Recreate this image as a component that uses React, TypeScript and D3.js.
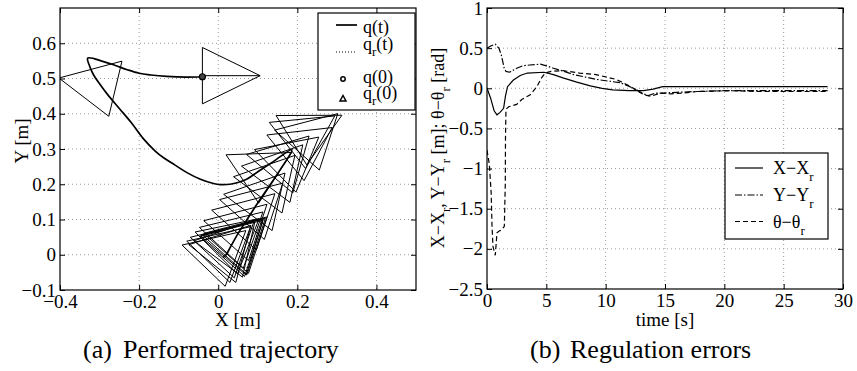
import React, { useEffect, useRef } from 'react';
import * as d3 from 'd3';

// ---------- (a) performed trajectory ----------
// robot path q(t), [x, y] in metres
const qTraj: [number, number][] = [
  [-0.04, 0.505], [-0.08, 0.504], [-0.13, 0.506], [-0.17, 0.51], [-0.2, 0.515],
  [-0.23, 0.525], [-0.26, 0.537], [-0.29, 0.548], [-0.33, 0.558], [-0.325, 0.535],
  [-0.315, 0.51], [-0.3, 0.485], [-0.28, 0.455], [-0.25, 0.415], [-0.22, 0.375],
  [-0.19, 0.33], [-0.16, 0.295], [-0.138, 0.275], [-0.11, 0.255], [-0.079, 0.233],
  [-0.045, 0.214], [-0.012, 0.202], [0.005, 0.199], [0.03, 0.2], [0.05, 0.205],
  [0.073, 0.215], [0.102, 0.237], [0.14, 0.265], [0.186, 0.298], [0.15, 0.23],
  [0.12, 0.18], [0.09, 0.13], [0.073, 0.1], [0.05, 0.06], [0.03, 0.02],
  [0.02, 0.0], [0.012, -0.008]
];

// reference path q_r(t)
const qRefTraj: [number, number][] = [
  [0.1, 0.08], [0.097, 0.05], [0.092, 0.02], [0.085, -0.01], [0.07, -0.04]
];

// robot snapshots drawn as triangles: [x, y, heading deg]
const robotPoses: [number, number, number][] = [
  [-0.04, 0.508, 0],
  [-0.26, 0.471, 168],
  [0.199, 0.297, 45],
  [0.175, 0.31, 35],
  [0.185, 0.325, 29],
  [0.17, 0.275, 36],
  [0.144, 0.238, 41],
  [0.061, 0.215, 31],
  [0.13, 0.23, 47],
  [0.12, 0.2, 50],
  [0.1, 0.17, 50],
  [0.075, 0.12, 50],
  [0.06, 0.1, 45],
  [0.04, 0.07, 45],
  [0.02, 0.04, 45],
  [0.008, 0.02, 44],
  [-0.005, 0.005, 42],
  [-0.015, -0.008, 44],
  [-0.025, -0.02, 43],
  [-0.037, -0.031, 43],
  [-0.015, -0.025, 48],
  [0.0, -0.012, 50],
  [0.01, -0.005, 45],
  [0.013, -0.002, 46],
  [0.016, 0.0, 45],
  [0.02, 0.004, 45]
];

const leftXTicks = [-0.4, -0.2, 0, 0.2, 0.4];
const leftYTicks = [-0.1, 0, 0.1, 0.2, 0.3, 0.4, 0.5, 0.6];

// ---------- (b) regulation errors ----------
// [time s, value]
const errX: [number, number][] = [
  [0, 0], [0.3, -0.12], [0.6, -0.28], [0.84, -0.33], [1.1, -0.3], [1.4, -0.25],
  [1.55, -0.1], [1.73, 0.02], [2.2, 0.1], [2.8, 0.16], [3.4, 0.19], [4.8, 0.2],
  [5.6, 0.17], [6.4, 0.13], [7.5, 0.08], [8.7, 0.03], [9.7, 0.0], [10.6, -0.02],
  [12, -0.03], [13.2, -0.03], [14, -0.01], [14.8, 0.02], [16, 0.02], [20, 0.02], [28.7, 0.02]
];
const errY: [number, number][] = [
  [0, 0.5], [0.35, 0.53], [0.7, 0.55], [1.0, 0.5], [1.2, 0.42], [1.45, 0.25],
  [1.6, 0.21], [1.9, 0.2], [2.5, 0.25], [3.0, 0.28], [3.6, 0.29], [4.5, 0.3],
  [5.0, 0.28], [5.6, 0.25], [6.5, 0.21], [7.3, 0.17], [8.3, 0.14], [9.25, 0.11],
  [10.2, 0.09], [11.2, 0.07], [11.9, 0.03], [12.6, -0.02], [13.2, -0.07], [13.6, -0.09],
  [14.2, -0.06], [14.9, -0.06], [16, -0.05], [17.7, -0.04], [20, -0.03], [24, -0.03], [28.7, -0.03]
];
const errTheta: [number, number][] = [
  [0, -0.77], [0.2, -0.95], [0.35, -1.3], [0.42, -1.7], [0.5, -1.97], [0.7, -2.08],
  [0.84, -1.8], [1.0, -1.78], [1.26, -1.76], [1.46, -1.72], [1.54, -1.2], [1.56, -0.6],
  [1.6, -0.26], [1.83, -0.23], [2.5, -0.2], [2.93, -0.14], [3.64, -0.08], [4.2, 0.02],
  [4.6, 0.13], [4.9, 0.19], [5.4, 0.21], [6.4, 0.22], [7.8, 0.19], [9.2, 0.17],
  [10.9, 0.11], [12, 0.03], [13.2, -0.08], [13.8, -0.1], [14.6, -0.06], [15.5, -0.07],
  [16.5, -0.06], [17.7, -0.04], [20.5, -0.03], [23, -0.04], [26, -0.04], [28.7, -0.04]
];

const rightXTicks = [0, 5, 10, 15, 20, 25, 30];
const rightYTicks = [-2.5, -2, -1.5, -1, -0.5, 0, 0.5, 1];

const FONT = 'Liberation Serif, Times New Roman, Times, DejaVu Serif, serif';

type Part = [string, boolean];

// write text with subscripts as tspans
function richText(sel: any, parts: Part[], subSize: number, shift: number) {
  let down = false;
  parts.forEach(([str, sub]) => {
    const t = sel.append('tspan').text(str);
    if (sub && !down) { t.attr('dy', shift).attr('font-size', subSize); down = true; }
    else if (!sub && down) { t.attr('dy', -shift); down = false; }
    else if (sub) t.attr('font-size', subSize);
  });
}

const App = () => {
  const ref = useRef<SVGSVGElement>(null);

  useEffect(() => {
    const svg = d3.select(ref.current);
    svg.selectAll('*').remove();

    const fmt = (d: number) => (d === 0 ? '0' : d3.format('~g')(d));

    const drawFrame = (x: any, y: any, xt: number[], yt: number[], id: string) => {
      const [x0, x1] = x.range();
      const [y0, y1] = y.range();
      const g = svg.append('g');
      // grid
      g.selectAll('.gx').data(xt.filter(d => x(d) > x0 + 1 && x(d) < x1 - 1)).join('line')
        .attr('x1', d => x(d)).attr('x2', d => x(d)).attr('y1', y1).attr('y2', y0)
        .attr('stroke', '#9a9a9a').attr('stroke-dasharray', '1,3');
      g.selectAll('.gy').data(yt.filter(d => y(d) < y0 - 1 && y(d) > y1 + 1)).join('line')
        .attr('y1', d => y(d)).attr('y2', d => y(d)).attr('x1', x0).attr('x2', x1)
        .attr('stroke', '#9a9a9a').attr('stroke-dasharray', '1,3');

      const style = (a: any) => {
        a.select('.domain').remove();
        a.attr('font-family', null).attr('font-size', null);
        a.selectAll('line').attr('stroke', '#000');
        a.selectAll('text').attr('fill', '#000').style('font-family', FONT).style('font-size', '19px');
      };
      g.append('g').attr('transform', `translate(0,${y0})`)
        .call(d3.axisBottom(x).tickValues(xt).tickFormat(fmt as any).tickSizeInner(-5).tickSizeOuter(0).tickPadding(5))
        .call(style);
      g.append('g').attr('transform', `translate(0,${y1})`)
        .call(d3.axisTop(x).tickValues(xt).tickFormat(() => '').tickSizeInner(-5).tickSizeOuter(0))
        .call(style);
      g.append('g').attr('transform', `translate(${x0},0)`)
        .call(d3.axisLeft(y).tickValues(yt).tickFormat(fmt as any).tickSizeInner(-5).tickSizeOuter(0).tickPadding(4))
        .call(style);
      g.append('g').attr('transform', `translate(${x1},0)`)
        .call(d3.axisRight(y).tickValues(yt).tickFormat(() => '').tickSizeInner(-5).tickSizeOuter(0))
        .call(style);
      g.append('rect').attr('x', x0).attr('y', y1).attr('width', x1 - x0).attr('height', y0 - y1)
        .attr('fill', 'none').attr('stroke', '#000').attr('stroke-width', 1.2);

      svg.append('clipPath').attr('id', id).append('rect')
        .attr('x', x0).attr('y', y1).attr('width', x1 - x0).attr('height', y0 - y1);
    };

    // ===== left panel =====
    const xL = d3.scaleLinear().domain([-0.4, 0.5]).range([60, 416]);
    const yL = d3.scaleLinear().domain([-0.1, 0.7]).range([290, 8]);
    drawFrame(xL, yL, leftXTicks, leftYTicks, 'clipL');

    const plotL = svg.append('g').attr('clip-path', 'url(#clipL)');
    const lineL = d3.line<[number, number]>().x(d => xL(d[0])).y(d => yL(d[1]));

    const triHalf = 0.08, triLen = 0.146;
    const triangle = ([px, py, deg]: [number, number, number]): [number, number][] => {
      const a = deg * Math.PI / 180;
      const c = Math.cos(a), s = Math.sin(a);
      return [[px + triLen * c, py + triLen * s], [px - triHalf * s, py + triHalf * c], [px + triHalf * s, py - triHalf * c]];
    };

    plotL.selectAll('.tri').data(robotPoses).join('path')
      .attr('d', d => lineL(triangle(d)) + 'Z')
      .attr('fill', 'none').attr('stroke', '#000').attr('stroke-width', 1);

    // heading line of the first pose
    const p0 = robotPoses[0];
    plotL.append('path').attr('d', lineL([[p0[0], p0[1]], triangle(p0)[0]]))
      .attr('stroke', '#000').attr('stroke-width', 1);

    plotL.append('path').attr('d', lineL(qRefTraj))
      .attr('fill', 'none').attr('stroke', '#000').attr('stroke-width', 1).attr('stroke-dasharray', '1,2');

    plotL.append('path').attr('d', lineL.curve(d3.curveCatmullRom)(qTraj))
      .attr('fill', 'none').attr('stroke', '#000').attr('stroke-width', 1.7);

    plotL.append('circle').attr('cx', xL(qTraj[0][0])).attr('cy', yL(qTraj[0][1])).attr('r', 3)
      .attr('fill', '#444').attr('stroke', '#000').attr('stroke-width', 1.2);

    // legend (a)
    const lgA = svg.append('g').style('font-family', FONT).style('font-size', '18px');
    lgA.append('rect').attr('x', 318).attr('y', 13).attr('width', 97).attr('height', 97)
      .attr('fill', '#fff').attr('stroke', '#000').attr('stroke-width', 1.2);
    lgA.append('line').attr('x1', 336).attr('x2', 357).attr('y1', 25).attr('y2', 25)
      .attr('stroke', '#000').attr('stroke-width', 1.7);
    lgA.append('line').attr('x1', 336).attr('x2', 357).attr('y1', 52).attr('y2', 52)
      .attr('stroke', '#000').attr('stroke-width', 1).attr('stroke-dasharray', '1,2');
    lgA.append('circle').attr('cx', 343).attr('cy', 79).attr('r', 2.2)
      .attr('fill', 'none').attr('stroke', '#000').attr('stroke-width', 1.5);
    lgA.append('path').attr('d', 'M340,101L346,101L343,95.5Z')
      .attr('fill', 'none').attr('stroke', '#000').attr('stroke-width', 1.5);
    richText(lgA.append('text').attr('x', 363).attr('y', 33), [['q(t)', false]], 13, 6);
    richText(lgA.append('text').attr('x', 363).attr('y', 50), [['q', false], ['r', true], ['(t)', false]], 13, 6);
    richText(lgA.append('text').attr('x', 363).attr('y', 83), [['q(0)', false]], 13, 6);
    richText(lgA.append('text').attr('x', 363).attr('y', 99), [['q', false], ['r', true], ['(0)', false]], 13, 6);

    const label = (sel: any, size: number) => sel.style('font-family', FONT).style('font-size', `${size}px`);

    // labels (a)
    label(svg.append('text').attr('x', 238).attr('y', 326).attr('text-anchor', 'middle'), 19).text('X [m]');
    label(svg.append('text').attr('transform', 'translate(28,141) rotate(-90)').attr('text-anchor', 'middle'), 19).text('Y [m]');
    label(svg.append('text').attr('x', 83).attr('y', 358), 26).text('(a)');
    label(svg.append('text').attr('x', 123).attr('y', 358), 26).text('Performed trajectory');

    // ===== right panel =====
    const xR = d3.scaleLinear().domain([0, 30]).range([487, 843]);
    const yR = d3.scaleLinear().domain([-2.5, 1]).range([289, 8]);
    drawFrame(xR, yR, rightXTicks, rightYTicks, 'clipR');

    const plotR = svg.append('g').attr('clip-path', 'url(#clipR)');
    const lineR = d3.line<[number, number]>().x(d => xR(d[0])).y(d => yR(d[1]));
    const series: [[number, number][], string][] = [
      [errTheta, '5,3'],
      [errY, '7,2,1.5,2'],
      [errX, '']
    ];
    series.forEach(([data, dash]) => {
      plotR.append('path').attr('d', lineR(data))
        .attr('fill', 'none').attr('stroke', '#000').attr('stroke-width', 1.2)
        .attr('stroke-dasharray', dash || null);
    });

    // legend (b)
    const lgB = svg.append('g').style('font-family', FONT).style('font-size', '18px');
    lgB.append('rect').attr('x', 725).attr('y', 153).attr('width', 103).attr('height', 86)
      .attr('fill', '#fff').attr('stroke', '#000').attr('stroke-width', 1.2);
    const lgRows: [string, number, string][] = [['X', 168, ''], ['Y', 195, '7,2,1.5,2'], ['θ', 221.5, '5,3']];
    lgRows.forEach(([v, yy, dash]) => {
      lgB.append('line').attr('x1', 735).attr('x2', 763).attr('y1', yy).attr('y2', yy)
        .attr('stroke', '#000').attr('stroke-width', 1.2).attr('stroke-dasharray', dash || null);
      richText(lgB.append('text').attr('x', 773).attr('y', yy + 6), [[`${v}−${v}`, false], ['r', true]], 13, 7);
    });

    // labels (b)
    label(svg.append('text').attr('x', 665).attr('y', 326).attr('text-anchor', 'middle'), 19).text('time [s]');
    richText(
      label(svg.append('text').attr('transform', 'translate(444,148) rotate(-90)').attr('text-anchor', 'middle'), 18),
      [['X−X', false], ['r', true], [', Y−Y', false], ['r', true], [' [m]; θ−θ', false], ['r', true], [' [rad]', false]],
      13, 6
    );
    label(svg.append('text').attr('x', 530).attr('y', 358), 26).text('(b)');
    label(svg.append('text').attr('x', 570).attr('y', 358), 26).text('Regulation errors');
  }, []);

  return (
    <svg ref={ref} width={857} height={371}
      style={{ position: 'absolute', left: 0, top: 0, background: '#fff' }} />
  );
};

export default App;
